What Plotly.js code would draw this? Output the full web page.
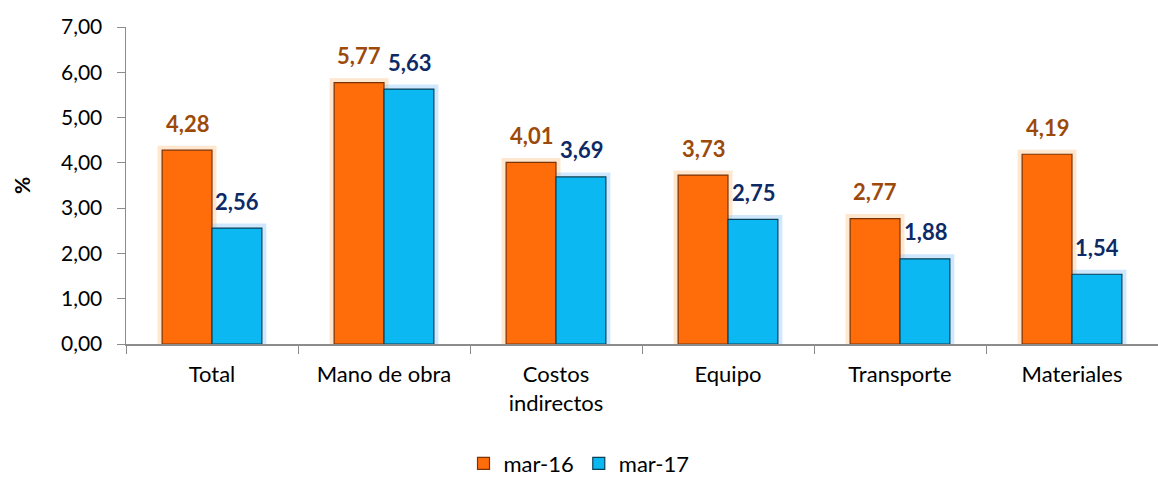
<!DOCTYPE html>
<html>
<head>
<meta charset="utf-8">
<script src="https://cdn.plot.ly/plotly-3.0.1.min.js"></script>
<style>html,body{margin:0;padding:0;background:#fff}#chart{width:1158px;height:477px}</style>
</head>
<body>
<div id="chart"></div>
<script>
const categories = ["Total", "Mano de obra", "Costos<br>indirectos", "Equipo", "Transporte", "Materiales"];
const mar16 = [4.28, 5.77, 4.01, 3.73, 2.77, 4.19];
const mar17 = [2.56, 5.63, 3.69, 2.75, 1.88, 1.54];
const seriesNames = ["mar-16", "mar-17"];
const yTicks = [0, 1, 2, 3, 4, 5, 6, 7];

const FONT = "Lato, 'Open Sans', sans-serif";
const BW = 0.29;

const series = [
  {name: seriesNames[0], y: mar16, offset: -BW, fill: "#FF6C0A", edge: "#7A3306", glow: "rgba(252,196,140,0.42)", label: "#9C4A0C", shift: -25},
  {name: seriesNames[1], y: mar17, offset: 0, fill: "#0BB8F2", edge: "#0A3F56", glow: "rgba(140,200,250,0.42)", label: "#0D2A66", shift: 25}
];

const traces = [];
series.forEach(s => {
  traces.push({
    type: "bar", x: categories, y: s.y, width: BW, offset: s.offset,
    marker: {color: "rgba(0,0,0,0)", line: {color: s.glow, width: 9}},
    showlegend: false, hoverinfo: "skip", cliponaxis: false
  });
});
series.forEach(s => {
  traces.push({
    type: "bar", name: s.name, x: categories, y: s.y, width: BW, offset: s.offset,
    marker: {color: s.fill, line: {color: s.edge, width: 1.2}},
    cliponaxis: false
  });
});

const annotations = [];
series.forEach(s => {
  categories.forEach((c, i) => {
    annotations.push({
      x: c, y: s.y[i], xref: "x", yref: "y",
      text: s.y[i].toFixed(2).replace(".", ","),
      showarrow: false, xshift: s.shift, yshift: 27, yanchor: "middle",
      font: {family: FONT, size: 22, color: s.label, weight: "bold"}
    });
  });
});

const layout = {
  width: 1158, height: 477,
  margin: {l: 126, r: 0, t: 27, b: 133, autoexpand: false},
  paper_bgcolor: "#fff", plot_bgcolor: "#fff",
  separators: ",.",
  font: {family: FONT, size: 21, color: "#000"},
  barmode: "overlay",
  showlegend: true,
  annotations: annotations,
  legend: {orientation: "h", x: 0.5, xref: "container", xanchor: "center",
           y: 0.028, yref: "container", yanchor: "middle",
           font: {family: FONT, size: 22, color: "#000"}, itemwidth: 30, traceorder: "normal"},
  xaxis: {
    showline: true, linecolor: "#8C8C8C", linewidth: 1.5,
    ticks: "outside", tickson: "boundaries", ticklen: 8, tickcolor: "#8C8C8C",
    ticklabelstandoff: 10,
    tickfont: {family: FONT, size: 22, color: "#000"}, showgrid: false
  },
  yaxis: {
    range: [0, 7], tickvals: yTicks, tickformat: ".2f",
    showline: true, linecolor: "#8C8C8C", linewidth: 1.5,
    ticks: "outside", ticklen: 8, tickcolor: "#8C8C8C",
    ticklabelstandoff: 10,
    showgrid: false, zeroline: false,
    tickfont: {family: FONT, size: 21, color: "#000"},
    title: {text: "%", font: {family: FONT, size: 21, color: "#000", weight: "bold"}, standoff: 24}
  }
};

Plotly.newPlot("chart", traces, layout, {displayModeBar: false, staticPlot: true});
</script>
</body>
</html>
